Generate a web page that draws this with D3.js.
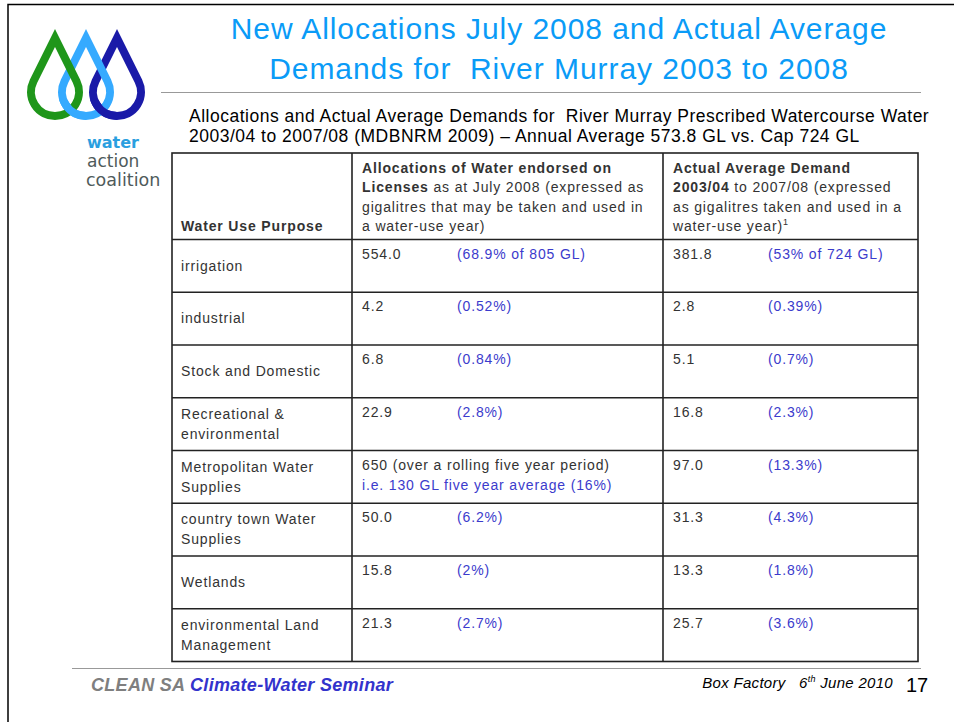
<!DOCTYPE html>
<html lang="en">
<head>
<meta charset="utf-8">
<title>New Allocations July 2008 and Actual Average Demands</title>
<script src="https://d3js.org/d3.v7.min.js"></script>
<style>
  body { margin: 0; background: #fff; }
  text { font-family: "Liberation Sans", Arial, sans-serif; white-space: pre; }
</style>
</head>
<body>
<script>
// table data
var purposes = [
  ["irrigation"],
  ["industrial"],
  ["Stock and Domestic"],
  ["Recreational &", "environmental"],
  ["Metropolitan Water", "Supplies"],
  ["country town Water", "Supplies"],
  ["Wetlands"],
  ["environmental Land", "Management"]
];
var allocGL = ["554.0", "4.2", "6.8", "22.9", "650 (over a rolling five year period)", "50.0", "15.8", "21.3"];
var allocShare = ["(68.9% of 805 GL)", "(0.52%)", "(0.84%)", "(2.8%)", "i.e. 130 GL five year average (16%)", "(6.2%)", "(2%)", "(2.7%)"];
var demandGL = ["381.8", "2.8", "5.1", "16.8", "97.0", "31.3", "13.3", "25.7"];
var demandShare = ["(53% of 724 GL)", "(0.39%)", "(0.7%)", "(2.3%)", "(13.3%)", "(4.3%)", "(1.8%)", "(3.6%)"];

var titleLines = ["New Allocations July 2008 and Actual Average", "Demands for  River Murray 2003 to 2008"];
var subtitleLines = [
  "Allocations and Actual Average Demands for  River Murray Prescribed Watercourse Water",
  "2003/04 to 2007/08 (MDBNRM 2009) \u2013 Annual Average 573.8 GL vs. Cap 724 GL"
];
var dropColors = ["#1f961a", "#35aaff", "#1a1aa8"];

var w = 954, h = 722;
var blue = "#3b3bcc", ink = "#333";

var svg = d3.select("body").append("svg")
  .attr("width", w)
  .attr("height", h);

svg.append("rect").attr("width", w).attr("height", h).attr("fill", "#fff");

// slide frame
svg.append("path")
  .attr("d", "M8,722 L8,4.5 L954,4.5")
  .attr("fill", "none").attr("stroke", "#000").attr("stroke-width", 1.5);

// logo drops, woven: later drop sits over the earlier one at the bottom crossing
var dropX = d3.scalePoint().domain(d3.range(3)).range([55, 117]);
function dropPath(cx) {
  var ty = 38, cy = 92, r = 24;
  var d = cy - ty, th = Math.acos(r / d);
  var lx = cx - r * Math.sin(th), rx = cx + r * Math.sin(th), py = cy - r * Math.cos(th);
  return "M" + cx + "," + ty + " L" + lx + "," + py +
    " A" + r + "," + r + " 0 1 0 " + rx + "," + py + " Z";
}
var defs = svg.append("defs");
[1, 2].forEach(function (i) {
  defs.append("clipPath").attr("id", "weave" + i)
    .append("rect")
    .attr("x", dropX(i) - 32).attr("y", 100)
    .attr("width", 32).attr("height", 30);
});
var drops = svg.append("g")
  .attr("fill", "none")
  .attr("stroke-width", 8)
  .attr("stroke-linejoin", "miter")
  .attr("stroke-miterlimit", 10);
drops.selectAll("path.base")
  .data([2, 1, 0])
  .join("path").attr("class", "base")
  .attr("d", function (i) { return dropPath(dropX(i)); })
  .attr("stroke", function (i) { return dropColors[i]; });
drops.selectAll("path.over")
  .data([1, 2])
  .join("path").attr("class", "over")
  .attr("d", function (i) { return dropPath(dropX(i)); })
  .attr("clip-path", function (i) { return "url(#weave" + i + ")"; })
  .attr("stroke", function (i) { return dropColors[i]; });

var logo = svg.append("g");
logo.append("text").attr("x", 87).attr("y", 148).text("water")
  .style("font-family", "DejaVu Sans").attr("font-size", 16).attr("font-weight", "bold").attr("fill", "#2a9fe0");
logo.append("text").attr("x", 87).attr("y", 167).text("action")
  .style("font-family", "DejaVu Sans").attr("font-size", 17).attr("fill", "#4f5b5b");
logo.append("text").attr("x", 86).attr("y", 186).text("coalition")
  .style("font-family", "DejaVu Sans").attr("font-size", 17.5).attr("fill", "#4f5b5b");

// title
svg.append("g").selectAll("text")
  .data(titleLines)
  .join("text")
  .attr("x", 559)
  .attr("y", function (d, i) { return 39 + i * 40; })
  .attr("text-anchor", "middle")
  .attr("font-size", 30)
  .attr("letter-spacing", 0.95)
  .attr("fill", "#0a9bf7")
  .text(function (d) { return d; });

svg.append("line")
  .attr("x1", 161).attr("x2", 921).attr("y1", 92.5).attr("y2", 92.5)
  .attr("stroke", "#999").attr("stroke-width", 1);

svg.append("g").selectAll("text")
  .data(subtitleLines)
  .join("text")
  .attr("x", 189)
  .attr("y", function (d, i) { return 122 + i * 20; })
  .attr("font-size", 17.5)
  .attr("letter-spacing", 0.5)
  .attr("fill", "#000")
  .text(function (d) { return d; });

// table geometry
var colX = [172, 352, 663, 918];
var tableTop = 153, headBottom = 239.5, tableBottom = 661.5;
var row = d3.scaleBand().domain(d3.range(purposes.length)).range([headBottom, tableBottom]);

var table = svg.append("g").attr("font-size", 14).attr("letter-spacing", 0.85).attr("fill", ink);

// header
table.append("text").attr("x", colX[0] + 9).attr("y", 231)
  .attr("font-weight", "bold").text("Water Use Purpose");

var head1 = [
  [["Allocations of Water endorsed on", true]],
  [["Licenses", true], [" as at July 2008 (expressed as", false]],
  [["gigalitres that may be taken and used in", false]],
  [["a water-use year)", false]]
];
var head2 = [
  [["Actual Average Demand", true]],
  [["2003/04", true], [" to 2007/08 (expressed", false]],
  [["as gigalitres taken and used in a", false]],
  [["water-use year)", false], ["1", false, true]]
];
function header(lines, x) {
  lines.forEach(function (parts, i) {
    var t = table.append("text").attr("x", x).attr("y", 173 + i * 19.4);
    parts.forEach(function (p) {
      var s = t.append("tspan").text(p[0]).attr("font-weight", p[1] ? "bold" : "normal");
      if (p[2]) s.attr("font-size", 9).attr("dy", -6);
    });
  });
}
header(head1, colX[1] + 10);
header(head2, colX[2] + 10);

// body rows
var rows = table.selectAll("g.row")
  .data(d3.range(purposes.length))
  .join("g").attr("class", "row")
  .attr("transform", function (i) { return "translate(0," + row(i) + ")"; });

rows.each(function (i) {
  var g = d3.select(this);
  var lines = purposes[i];
  g.selectAll("text.lab").data(lines).join("text").attr("class", "lab")
    .attr("x", colX[0] + 9)
    .attr("y", function (d, k) { return lines.length === 1 ? 31 : 21 + k * 20; })
    .text(function (d) { return d; });

  g.append("text").attr("x", colX[1] + 10).attr("y", 19).text(allocGL[i]);
  var wide = allocGL[i].length > 8;
  g.append("text")
    .attr("x", wide ? colX[1] + 10 : colX[1] + 105)
    .attr("y", wide ? 39 : 19)
    .attr("fill", blue).text(allocShare[i]);

  g.append("text").attr("x", colX[2] + 10).attr("y", 19).text(demandGL[i]);
  g.append("text").attr("x", colX[2] + 105).attr("y", 19)
    .attr("fill", blue).text(demandShare[i]);
});

// grid lines
var grid = svg.append("g").attr("stroke", "#222").attr("stroke-width", 1.6).attr("fill", "none");
grid.append("rect")
  .attr("x", colX[0]).attr("y", tableTop)
  .attr("width", colX[3] - colX[0]).attr("height", tableBottom - tableTop);
grid.selectAll("line.v").data([colX[1], colX[2]]).join("line").attr("class", "v")
  .attr("x1", function (d) { return d; }).attr("x2", function (d) { return d; })
  .attr("y1", tableTop).attr("y2", tableBottom);
grid.selectAll("line.h").data(d3.range(purposes.length)).join("line").attr("class", "h")
  .attr("x1", colX[0]).attr("x2", colX[3])
  .attr("y1", function (i) { return row(i); }).attr("y2", function (i) { return row(i); });

// footer
svg.append("line")
  .attr("x1", 72).attr("x2", 921).attr("y1", 668.5).attr("y2", 668.5)
  .attr("stroke", "#999").attr("stroke-width", 1.2);

var foot = svg.append("text").attr("x", 91).attr("y", 691)
  .attr("font-size", 18).attr("letter-spacing", 0.3)
  .attr("font-weight", "bold").attr("font-style", "italic");
foot.append("tspan").attr("fill", "#7f7f7f").text("CLEAN SA ");
foot.append("tspan").attr("fill", "#3333cc").text("Climate-Water Seminar");

var date = svg.append("text").attr("x", 893).attr("y", 688).attr("text-anchor", "end")
  .attr("font-size", 15).attr("letter-spacing", 0.3)
  .attr("font-style", "italic").attr("fill", "#000");
date.append("tspan").text("Box Factory   6");
date.append("tspan").attr("font-size", 9).attr("dy", -6).text("th");
date.append("tspan").attr("dy", 6).text(" June 2010");

svg.append("text").attr("x", 906).attr("y", 692)
  .attr("font-size", 20).attr("fill", "#000").text("17");
</script>
</body>
</html>
